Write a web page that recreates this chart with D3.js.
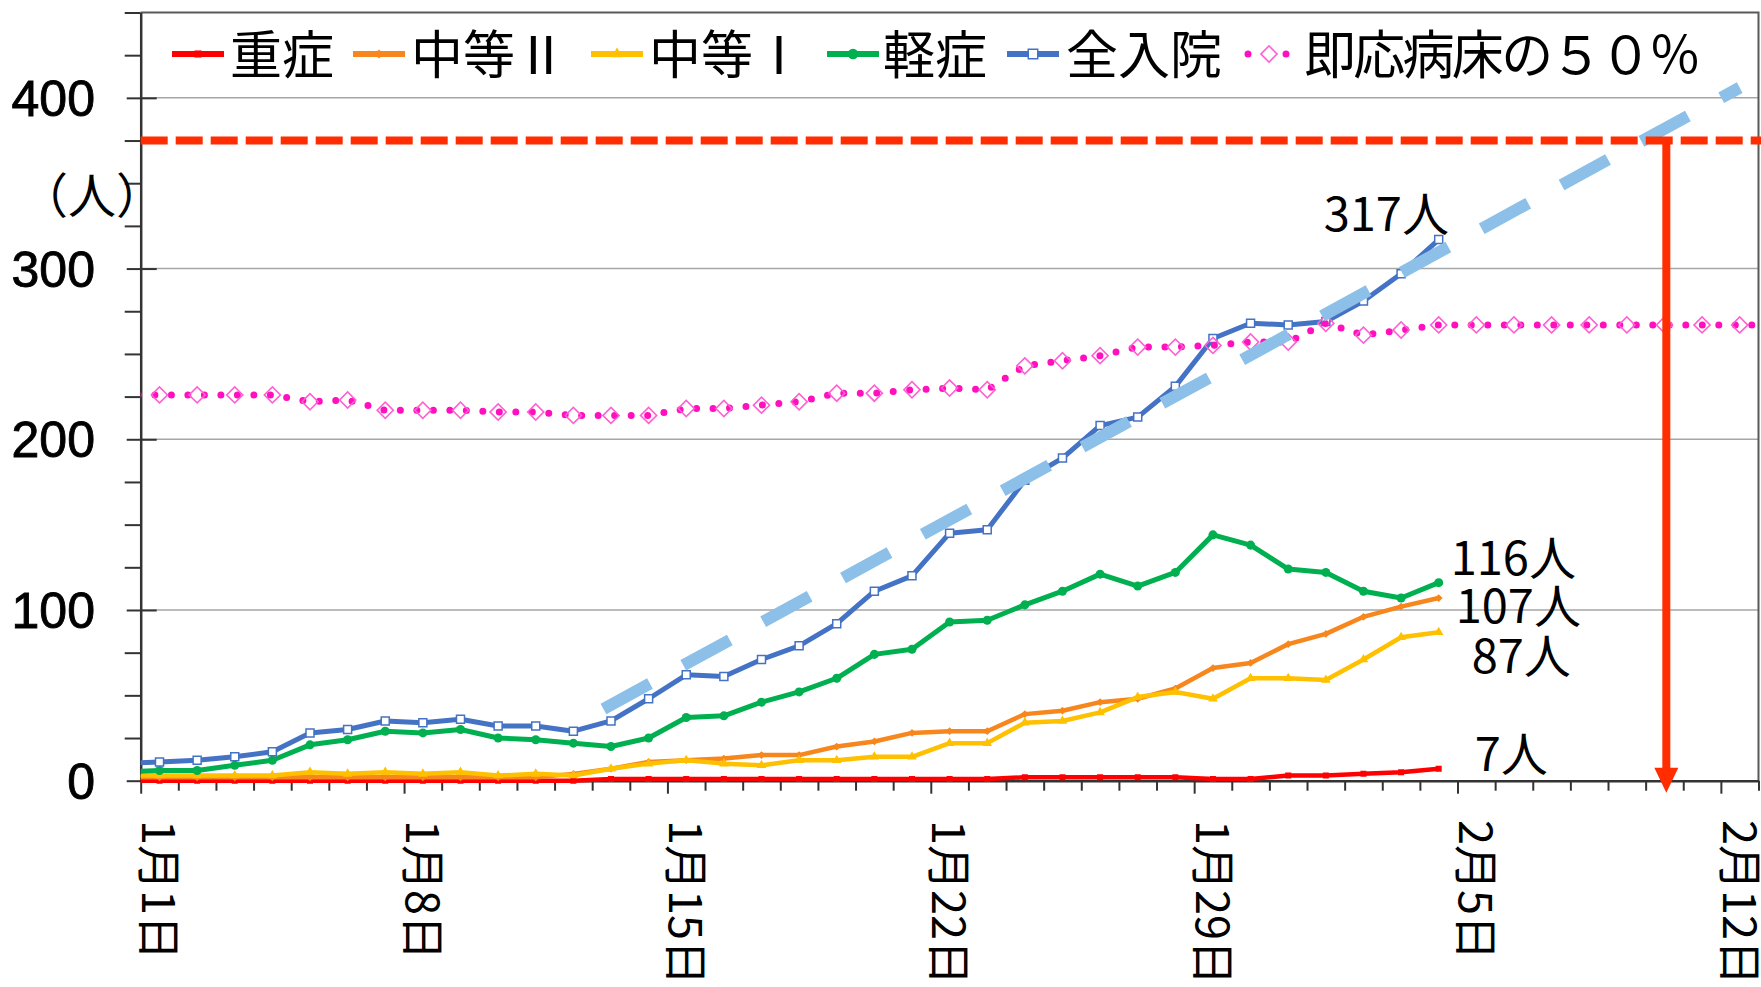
<!DOCTYPE html>
<html lang="ja"><head><meta charset="utf-8">
<script src="https://cdn.jsdelivr.net/npm/d3@7/dist/d3.min.js"></script>
<style>
html,body{margin:0;padding:0;background:#fff;overflow:hidden;}
svg{display:block;}
text{font-family:"Noto Sans CJK JP","Noto Sans",sans-serif;fill:#000;}
</style></head><body>
<svg id="c" width="1761" height="987"></svg>
<script>
// ---------------- data ----------------
const categories = ["12/31",
  "1/1","1/2","1/3","1/4","1/5","1/6","1/7","1/8","1/9","1/10",
  "1/11","1/12","1/13","1/14","1/15","1/16","1/17","1/18","1/19","1/20",
  "1/21","1/22","1/23","1/24","1/25","1/26","1/27","1/28","1/29","1/30","1/31",
  "2/1","2/2","2/3","2/4","2/5","2/6","2/7","2/8","2/9","2/10","2/11","2/12","2/13"];

const severe    = [0, 0,0,0,0,0,0,0,0,0,0, 0,0,1,1,1,1,1,1,1,1, 1,1,1,2,2,2,2,2,1,1,3, 3,4,5,7];
const moderate2 = [2, 2,2,2,2,2,2,2,2,2,2, 2,4,7,11,12,13,15,15,20,23, 28,29,29,39,41,46,48,54,66,69,80, 86,96,102,107];
const moderate1 = [3, 3,3,3,3,5,4,5,4,5,3, 4,3,7,10,12,10,9,12,12,14, 14,22,22,34,35,40,49,52,48,60,60, 59,71,84,87];
const mild      = [5, 6,6,9,12,21,24,29,28,30,25, 24,22,20,25,37,38,46,52,60,74, 77,93,94,103,111,121,114,122,144,138,124, 122,111,107,116];
const total     = [10, 11,12,14,17,28,30,35,34,36,32, 32,29,35,48,62,61,71,79,92,111, 120,145,147,176,189,208,213,231,259,268,267, 269,281,297,317];
const bedsHalf  = [226, 226,226,226,226,222,223,217,217,217,216, 216,214,214,214,218,218,220,222,227,227,
  229,230,229,243,246,249,254,254,255,257,257, 268,261,264,267,267,267,267,267,267,267,267,267,267];

const seriesNames = ["重症","中等Ⅱ","中等Ⅰ","軽症","全入院","即応病床の５０％"];
const yTickValues = [0,100,200,300,400];
const xTickCategories = ["1/1","1/8","1/15","1/22","1/29","2/5","2/12"];
const bedLimitValue = 375;               // red dashed level
const trendDays   = [12.3, 42.5];        // trend line (days from 1/1)
const trendValues = [42, 406];
const arrowDay    = 40.55;               // red arrow position (days from 1/1)
const unitLabel   = "（人）";

// ---------------- layout ----------------
const svg = d3.select("#c");
const plot = {left:140.7, right:1758.5, top:12.5, bottom:780.7};
const x = d3.scaleLinear().domain([0,43]).range([plot.left, plot.right]);
const y = d3.scaleLinear().domain([0,450]).range([plot.bottom, plot.top]);
const catX = i => x(i - 0.5);   // category index -> centre of that day

svg.append("rect").attr("width",1761).attr("height",987).attr("fill","#fff");

svg.append("defs").append("clipPath").attr("id","clip")
  .append("rect").attr("x",plot.left).attr("y",plot.top-20)
  .attr("width",plot.right-plot.left).attr("height",plot.bottom-plot.top+40);

// gridlines
svg.append("g").selectAll("line").data([100,200,300,400]).join("line")
  .attr("x1",plot.left).attr("x2",plot.right)
  .attr("y1",d=>y(d)).attr("y2",d=>y(d))
  .attr("stroke","#a6a6a6").attr("stroke-width",1.5);

// frame (top / right)
svg.append("path")
  .attr("d",`M${plot.left},${y(450)}H${plot.right}V${plot.bottom}`)
  .attr("fill","none").attr("stroke","#595959").attr("stroke-width",2);

// y axis
const gy = svg.append("g").attr("transform",`translate(${plot.left},0)`)
  .call(d3.axisLeft(y).tickValues(d3.range(0,451,25)).tickSize(16).tickSizeOuter(0).tickFormat(""));
gy.select(".domain").attr("stroke","#333").attr("stroke-width",2.5);
gy.selectAll(".tick line").attr("stroke","#333").attr("stroke-width",2)
  .each(function(d){ if(d%100===0) d3.select(this).attr("x1",16).attr("x2",-14); });
svg.append("g").selectAll("text").data(yTickValues).join("text")
  .attr("x",95).attr("y",d=>y(d)).attr("dy","0.36em").attr("text-anchor","end")
  .style("font-family","'Liberation Sans',Arial,sans-serif").style("font-size","50px")
  .attr("stroke","#000").attr("stroke-width",0.9)
  .text(d=>d);
svg.append("text").attr("x",20).attr("y",213).style("font-size","48px").text(unitLabel);

// x axis
const gx = svg.append("g").attr("transform",`translate(0,${plot.bottom})`)
  .call(d3.axisBottom(x).tickValues(d3.range(0,44)).tickSize(10).tickSizeOuter(0).tickFormat(""));
gx.select(".domain").attr("stroke","#333").attr("stroke-width",2.5);
gx.selectAll(".tick line").attr("stroke","#333").attr("stroke-width",2)
  .each(function(d){ if(d%7===0) d3.select(this).attr("y2",13); });
svg.append("g").selectAll("text").data(xTickCategories).join("text")
  .attr("transform",d=>`translate(${catX(categories.indexOf(d))},820) rotate(90)`)
  .attr("dy","0.38em").style("font-size","45px")
  .text(d=>{const p=d.split("/");return `${p[0]}月${p[1]}日`;});

// ---------------- series ----------------
const g = svg.append("g").attr("clip-path","url(#clip)");
const line = d3.line().x((d,i)=>catX(i)).y(d=>y(d));

const styles = [
  {data:severe,    color:"#ff0000", w:4.5, sym:"square",  size:36, fill:"#ff0000"},
  {data:moderate2, color:"#f7861c", w:4.5, sym:"diamond", size:30, fill:"#f7861c"},
  {data:moderate1, color:"#ffc000", w:4.5, sym:"triangle",size:40, fill:"#ffc000"},
  {data:mild,      color:"#00b050", w:5,   sym:"circle",  size:64, fill:"#00b050"},
  {data:total,     color:"#4472c4", w:5,   sym:"square",  size:64, fill:"#fff", stroke:"#4472c4"}
];
function symPath(s,size){
  const t = s==="circle"?d3.symbolCircle: s==="triangle"?d3.symbolTriangle: d3.symbolSquare;
  return d3.symbol(t,size)();
}
function drawMarker(sel,st,scale){
  sel.attr("d",symPath(st.sym,st.size*(scale||1)))
    .attr("fill",st.fill).attr("stroke",st.stroke||"none").attr("stroke-width",1.5);
}
function markerRot(st){ return st.sym==="diamond"?" rotate(45)":""; }

styles.forEach(st=>{
  g.append("path").datum(st.data).attr("d",line)
    .attr("fill","none").attr("stroke",st.color).attr("stroke-width",st.w)
    .attr("stroke-linejoin","round");
  g.append("g").selectAll("path").data(st.data).join("path")
    .attr("transform",(d,i)=>`translate(${catX(i)},${y(d)})${markerRot(st)}`)
    .call(drawMarker,st);
});

// beds 50% dotted
g.append("path").datum(bedsHalf).attr("d",line)
  .attr("fill","none").attr("stroke","#ff0fbe").attr("stroke-width",7)
  .attr("stroke-linecap","round").attr("stroke-dasharray","0 16.5");
g.append("g").selectAll("path").data(bedsHalf).join("path")
  .attr("transform",(d,i)=>`translate(${catX(i)},${y(d)}) rotate(45)`)
  .attr("d",d3.symbol(d3.symbolSquare,130)())
  .attr("fill","none").attr("stroke","#ff5fd2").attr("stroke-width",1.6);

// trend line
g.append("line")
  .attr("x1",x(trendDays[0])).attr("y1",y(trendValues[0]))
  .attr("x2",x(trendDays[1])).attr("y2",y(trendValues[1]))
  .attr("stroke","#8cc0e8").attr("stroke-width",12).attr("stroke-dasharray","53 38");

// red dashed limit
svg.append("line").attr("x1",plot.left).attr("x2",1761)
  .attr("y1",y(bedLimitValue)).attr("y2",y(bedLimitValue))
  .attr("stroke","#ff2d00").attr("stroke-width",8).attr("stroke-dasharray","27 8");

// arrow
const ax = x(arrowDay), tipY = plot.bottom + 12;
svg.append("line").attr("x1",ax).attr("x2",ax).attr("y1",y(bedLimitValue)).attr("y2",tipY-20)
  .attr("stroke","#ff2d00").attr("stroke-width",8);
svg.append("path").attr("d",`M${ax-12},${tipY-25}L${ax+12},${tipY-25}L${ax},${tipY}Z`).attr("fill","#ff2d00");

// end labels
const last = total.length - 1;
const endLabels = [
  {v:total[last],     dx:-115, dy:-9},
  {v:mild[last],      dx:12,   dy:-8},
  {v:moderate2[last], dx:17,   dy:25},
  {v:moderate1[last], dx:33,   dy:41},
  {v:severe[last],    dx:36,   dy:2}
];
svg.append("g").selectAll("text").data(endLabels).join("text")
  .attr("x",d=>catX(last)+d.dx).attr("y",d=>y(d.v)+d.dy)
  .style("font-size","47px").text(d=>d.v+"人");

// ---------------- legend ----------------
const lg = svg.append("g");
const legendSymX = [172, 353, 591, 827, 1007, 1245];
const legendTextX = [230, 411, 649, 883, 1066, 1304];
const ly = 54;
seriesNames.forEach((name,k)=>{
  const item = lg.append("g");
  const cx = legendSymX[k];
  if(k<5){
    const st = styles[k];
    item.append("line").attr("x1",cx).attr("x2",cx+52).attr("y1",ly).attr("y2",ly)
      .attr("stroke",st.color).attr("stroke-width",6);
    item.append("path").attr("transform",`translate(${cx+26},${ly})${markerRot(st)}`).call(drawMarker,st,1.4);
  } else {
    item.append("line").attr("x1",cx+3).attr("x2",cx+45).attr("y1",ly).attr("y2",ly)
      .attr("stroke","#ff0fbe").attr("stroke-width",7).attr("stroke-linecap","round")
      .attr("stroke-dasharray","0 19");
    item.append("path").attr("transform",`translate(${cx+24},${ly}) rotate(45)`)
      .attr("d",d3.symbol(d3.symbolSquare,130)()).attr("fill","#fff")
      .attr("stroke","#ff5fd2").attr("stroke-width",1.6);
  }
  const t = item.append("text").attr("x",legendTextX[k]).attr("y",74).style("font-size","52px").text(name);
  if(k===5) t.attr("textLength",397).attr("lengthAdjust","spacing");
});
</script>
</body></html>
